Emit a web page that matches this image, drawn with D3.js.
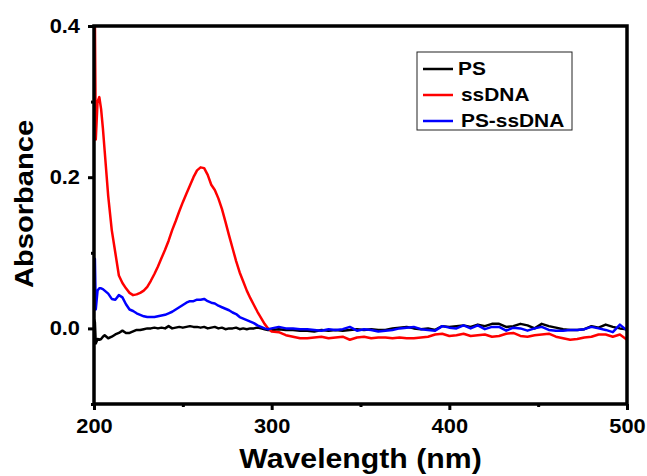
<!DOCTYPE html>
<html>
<head>
<meta charset="utf-8">
<script src="https://cdn.jsdelivr.net/npm/d3@7"></script>
<style>
  body { margin: 0; background: #fff; }
  text { font-family: "Liberation Sans", Arial, sans-serif; font-weight: bold; }
</style>
</head>
<body>
<script>
// wavelength grid (nm)
var wavelengths = [
  200, 200.5, 201, 202, 203, 204, 205,
  206, 208, 210, 212, 214, 216, 218, 220, 222, 224,
  226, 228, 230, 232, 234, 236, 238, 240, 242, 244,
  246, 248, 250, 252, 254, 256, 258, 260, 262, 264,
  266, 268, 270, 272, 274, 276, 278, 280, 282, 284,
  286, 288, 290, 292, 294, 296, 298, 300,
  304, 308, 312, 316, 320, 324, 328, 332, 336, 340,
  344, 348, 352, 356, 360, 364, 368, 372, 376, 380,
  384, 388, 392, 396, 400, 404, 408, 412, 416, 420,
  424, 428, 432, 436, 440, 444, 448, 452, 456, 460,
  464, 468, 472, 476, 480, 484, 488, 492, 496, 500
];

var ps = [
  0.012, 0.008, -0.02, -0.014, -0.015, -0.014, -0.011,
  -0.009, -0.013, -0.011, -0.008, -0.006, -0.003, -0.006, -0.006, -0.004, -0.002,
  -0.002, -0.001, 0.0, 0.0, 0.001, 0.0, 0.001, 0.0, 0.003, 0.0,
  0.001, 0.002, 0.001, 0.002, 0.003, 0.002, 0.002, 0.001, 0.002, 0.0,
  0.001, 0.002, 0.0, 0.001, -0.001, 0.0, 0.0, 0.001, -0.001, 0.0,
  -0.001, 0.0, 0.0, 0.001, 0.0, -0.001, -0.002, -0.002,
  -0.001, -0.002, -0.002, -0.003, -0.003, -0.004, -0.002, -0.003, -0.002, -0.003,
  -0.002, -0.001, -0.002, -0.001, -0.002, -0.002, 0.0, 0.001, 0.002, 0.0,
  -0.001, 0.0, -0.002, 0.003, 0.002, 0.003, 0.004, 0.002, 0.005, 0.003,
  0.006, 0.006, 0.002, 0.003, 0.006, 0.004, 0.0, 0.006, 0.003, 0.001,
  -0.001, -0.002, -0.002, -0.001, 0.003, 0.001, 0.005, 0.002, 0.0, -0.001
];

var ssdna = [
  0.41, 0.41, 0.25, 0.30, 0.306, 0.29, 0.265,
  0.235, 0.175, 0.13, 0.10, 0.07, 0.06, 0.053, 0.047, 0.044, 0.045,
  0.047, 0.050, 0.055, 0.063, 0.072, 0.082, 0.093, 0.104, 0.116, 0.130,
  0.142, 0.155, 0.167, 0.178, 0.189, 0.200, 0.209, 0.213, 0.212, 0.203,
  0.190, 0.183, 0.172, 0.158, 0.141, 0.123, 0.106, 0.089, 0.074, 0.062,
  0.050, 0.040, 0.031, 0.022, 0.014, 0.006, 0.000, -0.004,
  -0.005, -0.009, -0.011, -0.013, -0.013, -0.012, -0.011, -0.013, -0.012, -0.011,
  -0.015, -0.012, -0.011, -0.013, -0.012, -0.012, -0.013, -0.012, -0.013, -0.013,
  -0.012, -0.011, -0.008, -0.007, -0.010, -0.009, -0.007, -0.010, -0.009, -0.008,
  -0.011, -0.010, -0.007, -0.006, -0.010, -0.011, -0.009, -0.008, -0.007, -0.011,
  -0.013, -0.015, -0.014, -0.012, -0.011, -0.008, -0.008, -0.011, -0.008, -0.015
];

var psSsdna = [
  0.093, 0.092, 0.025, 0.05, 0.053, 0.053, 0.052,
  0.050, 0.046, 0.039, 0.038, 0.044, 0.041, 0.032, 0.025, 0.023, 0.020,
  0.018, 0.016, 0.015, 0.015, 0.015, 0.016, 0.017, 0.018, 0.020, 0.022,
  0.025, 0.028, 0.031, 0.034, 0.036, 0.036, 0.038, 0.038, 0.039, 0.036,
  0.034, 0.033, 0.030, 0.028, 0.026, 0.024, 0.021, 0.019, 0.015, 0.013,
  0.011, 0.009, 0.007, 0.004, 0.002, 0.0, -0.001, 0.0,
  0.002, 0.0, 0.0, -0.001, -0.001, -0.002, -0.003, -0.001, -0.002, -0.001,
  0.002, -0.003, -0.001, -0.002, -0.004, -0.003, -0.002, 0.0, 0.001, 0.002,
  -0.001, -0.002, -0.003, 0.003, 0.001, 0.0, 0.004, 0.0, 0.004, -0.001,
  0.002, 0.002, -0.003, 0.001, 0.0, -0.003, 0.0, 0.002, -0.002, -0.003,
  -0.003, -0.002, -0.002, -0.001, 0.002, 0.0, -0.002, -0.005, 0.005, -0.003
];

var seriesNames = ["PS", "ssDNA", "PS-ssDNA"];
var seriesColors = ["#000000", "#ff0000", "#0000ff"];
var xMajor = [200, 300, 400, 500];
var xMinor = [250, 350, 450];
var yMajor = [0.0, 0.2, 0.4];
var yMinor = [-0.1, 0.1, 0.3];

var width = 647, height = 476;
var plotLeft = 94, plotRight = 627, plotTop = 26, plotBottom = 404;

var svg = d3.select("body")
            .append("svg")
            .attr("width", width)
            .attr("height", height);

var x = d3.scaleLinear().domain([200, 500]).range([plotLeft, plotRight]);
var y = d3.scaleLinear().domain([-0.1, 0.4]).range([plotBottom, plotTop]);

svg.append("clipPath").attr("id", "plot")
   .append("rect")
   .attr("x", plotLeft).attr("y", plotTop)
   .attr("width", plotRight - plotLeft).attr("height", plotBottom - plotTop);

var line = d3.line()
    .x(function(d) { return x(d[0]); })
    .y(function(d) { return y(d[1]); });

[ps, ssdna, psSsdna].forEach(function(vals, i) {
    svg.append("path")
       .datum(wavelengths.map(function(w, j) { return [w, vals[j]]; }))
       .attr("d", line)
       .attr("fill", "none")
       .attr("stroke", seriesColors[i])
       .attr("stroke-width", 2.5)
       .attr("stroke-linejoin", "round")
       .attr("clip-path", "url(#plot)");
});

// axes
function styleAxis(g) {
    g.select(".domain").remove();
    g.selectAll("line").attr("stroke", "#000").attr("stroke-width", 3);
}

var xAxis = svg.append("g")
   .attr("transform", "translate(0," + plotBottom + ")")
   .call(d3.axisBottom(x).tickValues(xMajor).tickSize(6).tickPadding(9).tickFormat(d3.format("d")))
   .call(styleAxis);
xAxis.selectAll("text")
   .attr("font-size", "19.5px").attr("fill", "#000")
   .attr("transform", "scale(1.12,1)");

svg.append("g")
   .attr("transform", "translate(0," + plotBottom + ")")
   .call(d3.axisBottom(x).tickValues(xMinor).tickSize(3).tickFormat(""))
   .call(styleAxis);

var yAxis = svg.append("g")
   .attr("transform", "translate(" + plotLeft + ",0)")
   .call(d3.axisLeft(y).tickValues(yMajor).tickSize(6).tickPadding(6.5).tickFormat(d3.format(".1f")))
   .call(styleAxis);
yAxis.selectAll("text")
   .attr("font-size", "19.5px").attr("fill", "#000")
   .attr("transform", "scale(1.12,1)");

svg.append("g")
   .attr("transform", "translate(" + plotLeft + ",0)")
   .call(d3.axisLeft(y).tickValues(yMinor).tickSize(3).tickFormat(""))
   .call(styleAxis);

// frame
svg.append("rect")
   .attr("x", plotLeft).attr("y", plotTop)
   .attr("width", plotRight - plotLeft).attr("height", plotBottom - plotTop)
   .attr("fill", "none")
   .attr("stroke", "#000")
   .attr("stroke-width", 3.5);

// axis titles
svg.append("text")
   .text("Wavelength (nm)")
   .attr("text-anchor", "middle")
   .attr("font-size", "27px")
   .attr("transform", "translate(" + ((plotLeft + plotRight) / 2) + ",468) scale(1.12,1)");

svg.append("text")
   .text("Absorbance")
   .attr("text-anchor", "middle")
   .attr("font-size", "26px")
   .attr("transform", "translate(33,204) rotate(-90) scale(1.12,1)");

// legend
var legend = svg.append("g");
legend.append("rect")
   .attr("x", 417).attr("y", 52)
   .attr("width", 155).attr("height", 78)
   .attr("fill", "#fff")
   .attr("stroke", "#222")
   .attr("stroke-width", 1);

seriesNames.forEach(function(name, i) {
    var ly = 69 + i * 26;
    legend.append("line")
       .attr("x1", 423).attr("x2", 453)
       .attr("y1", ly).attr("y2", ly)
       .attr("stroke", seriesColors[i])
       .attr("stroke-width", 2.5);
    legend.append("text")
       .text(name)
       .attr("font-size", "18.5px")
       .attr("transform", "translate(" + (i === 0 ? 458 : 461) + "," + (ly + 5.5) + ") scale(1.13,1)");
});
</script>
</body>
</html>
